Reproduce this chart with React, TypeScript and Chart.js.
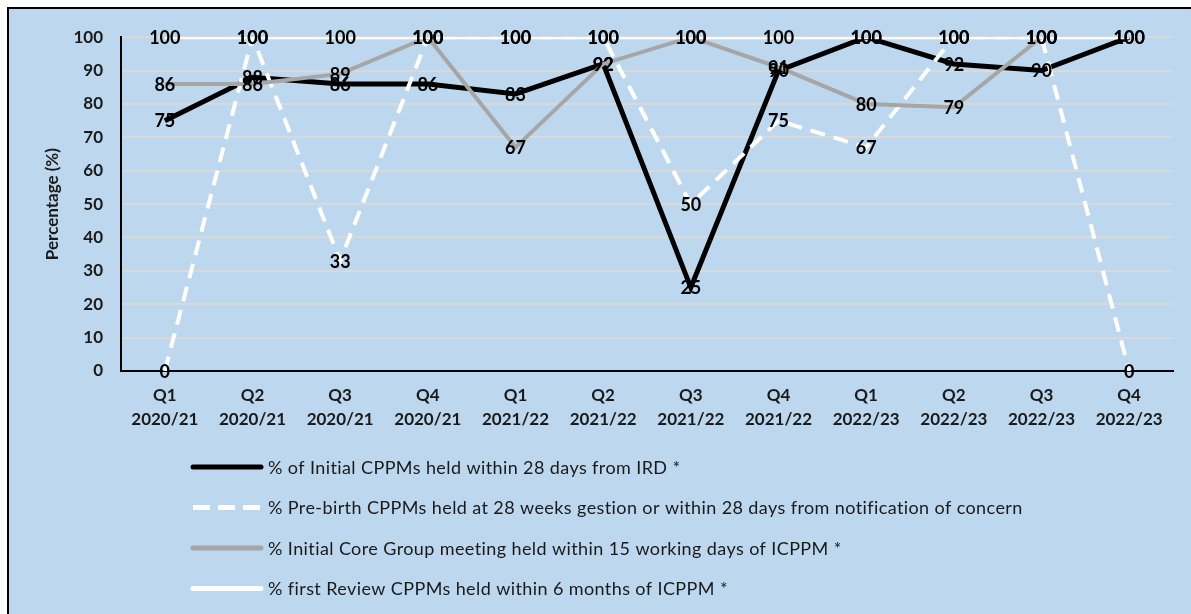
import React, { useEffect, useRef } from "react";
import { Chart, registerables } from "chart.js";

Chart.register(...registerables);

const categories: string[][] = [
  ["Q1", "2020/21"], ["Q2", "2020/21"], ["Q3", "2020/21"], ["Q4", "2020/21"],
  ["Q1", "2021/22"], ["Q2", "2021/22"], ["Q3", "2021/22"], ["Q4", "2021/22"],
  ["Q1", "2022/23"], ["Q2", "2022/23"], ["Q3", "2022/23"], ["Q4", "2022/23"],
];

const initialCppms: (number | null)[] = [75, 88, 86, 86, 83, 92, 25, 90, 100, 92, 90, 100];
const preBirthCppms: (number | null)[] = [0, 100, 33, 100, 100, 100, 50, 75, 67, 100, 100, 0];
const coreGroupMeetings: (number | null)[] = [86, 86, 89, 100, 67, 92, 100, 91, 80, 79, 100, null];
const firstReviewCppms: (number | null)[] = [100, 100, 100, 100, 100, 100, 100, 100, 100, 100, 100, 100];

const seriesNames = [
  "% of Initial CPPMs held within 28 days from IRD *",
  "% Pre-birth CPPMs held at 28 weeks gestion or within 28 days from notification of concern",
  "% Initial Core Group meeting held within 15 working days of ICPPM *",
  "% first Review CPPMs held within 6 months of ICPPM *",
];

const yMin = 0;
const yMax = 100;
const yStep = 10;
const yTitle = "Percentage (%)";

const FONT = "Lato, 'Noto Sans', sans-serif";

const dataLabelPlugin = {
  id: "dataLabelPlugin",
  afterDatasetsDraw(chart: any) {
    const ctx = chart.ctx;
    ctx.save();
    ctx.font = `bold 18px ${FONT}`;
    ctx.fillStyle = "#000000";
    ctx.textAlign = "center";
    ctx.textBaseline = "middle";
    chart.data.datasets.forEach((ds: any, i: number) => {
      const meta = chart.getDatasetMeta(i);
      meta.data.forEach((pt: any, j: number) => {
        const v = ds.data[j];
        if (v === null || v === undefined) return;
        ctx.fillText(String(v), pt.x, pt.y + 1);
      });
    });
    ctx.restore();
  },
};

const legendPlugin = {
  id: "customLegend",
  afterDraw(chart: any) {
    const ctx = chart.ctx;
    const x0 = 184;
    const x1 = 252;
    const tx = 259;
    const rowY0 = 458;
    const rowGap = 40.5;
    ctx.save();
    chart.data.datasets.forEach((ds: any, i: number) => {
      const y = rowY0 + i * rowGap;
      ctx.beginPath();
      ctx.strokeStyle = ds.borderColor;
      ctx.lineWidth = 5;
      ctx.lineCap = ds.borderDash && ds.borderDash.length ? "butt" : "round";
      ctx.setLineDash(ds.borderDash && ds.borderDash.length ? [17, 8] : []);
      ctx.moveTo(x0, y);
      ctx.lineTo(x1, y);
      ctx.stroke();
      ctx.setLineDash([]);
      ctx.font = `18px ${FONT}`;
      (ctx as any).letterSpacing = "0.4px";
      ctx.fillStyle = "#1a1a1a";
      ctx.textAlign = "left";
      ctx.textBaseline = "middle";
      ctx.fillText(ds.label, tx, y + 1);
      (ctx as any).letterSpacing = "0px";
    });
    ctx.restore();
  },
};

function LineChart() {
  const ref = useRef<HTMLCanvasElement | null>(null);
  useEffect(() => {
    if (!ref.current) return;
    const chart = new Chart(ref.current, {
      type: "line",
      data: {
        labels: categories,
        datasets: [
          {
            label: seriesNames[0],
            data: initialCppms,
            borderColor: "#000000",
            backgroundColor: "#000000",
            borderWidth: 5,
            pointRadius: 0,
            order: 3,
            tension: 0,
          },
          {
            label: seriesNames[1],
            data: preBirthCppms,
            borderColor: "#ffffff",
            backgroundColor: "#ffffff",
            borderWidth: 4,
            borderDash: [15, 9],
            pointRadius: 0,
            order: 2,
            tension: 0,
          },
          {
            label: seriesNames[2],
            data: coreGroupMeetings,
            borderColor: "#a6a6a6",
            backgroundColor: "#a6a6a6",
            borderWidth: 4,
            pointRadius: 0,
            order: 1,
            tension: 0,
          },
          {
            label: seriesNames[3],
            data: firstReviewCppms,
            borderColor: "#ffffff",
            backgroundColor: "#ffffff",
            borderWidth: 4,
            pointRadius: 0,
            order: 0,
            tension: 0,
          },
        ],
      },
      options: {
        animation: false,
        responsive: false,
        maintainAspectRatio: false,
        layout: { padding: { left: 0, top: 27, right: 18, bottom: 0 } },
        plugins: {
          legend: { display: false },
          tooltip: { enabled: false },
          title: { display: false },
        },
        scales: {
          x: {
            type: "category",
            offset: true,
            grid: { display: false, drawTicks: false },
            border: { display: true, color: "#000000", width: 2 },
            ticks: {
              color: "#1a1a1a",
              font: { family: FONT, size: 17, weight: "bold", lineHeight: "24px" },
              padding: 13,
              maxRotation: 0,
              autoSkip: false,
            },
            afterFit: (s: any) => {
              s.height = 243;
            },
          },
          y: {
            min: yMin,
            max: yMax,
            grid: { color: "#d9d9d9", lineWidth: 2, drawTicks: false },
            border: { display: true, color: "#000000", width: 2 },
            ticks: {
              stepSize: yStep,
              color: "#1a1a1a",
              font: { family: FONT, size: 17, weight: "bold" },
              padding: 18,
            },
            title: {
              display: true,
              text: yTitle,
              color: "#1a1a1a",
              font: { family: FONT, size: 17, weight: "bold" },
              padding: { top: 33, bottom: 0 },
            },
            afterFit: (s: any) => {
              s.width = 112;
            },
          },
        },
      },
      plugins: [dataLabelPlugin, legendPlugin],
    });
    return () => chart.destroy();
  }, []);
  return <canvas ref={ref} width={1182} height={605} style={{ display: "block" }} />;
}

export default function App() {
  return (
    <div
      style={{
        position: "fixed",
        left: 7,
        top: 7,
        right: 0,
        bottom: 0,
        background: "#bdd7ee",
        borderTop: "2px solid #000000",
        borderLeft: "2px solid #000000",
        overflow: "hidden",
      }}
    >
      <LineChart />
    </div>
  );
}
